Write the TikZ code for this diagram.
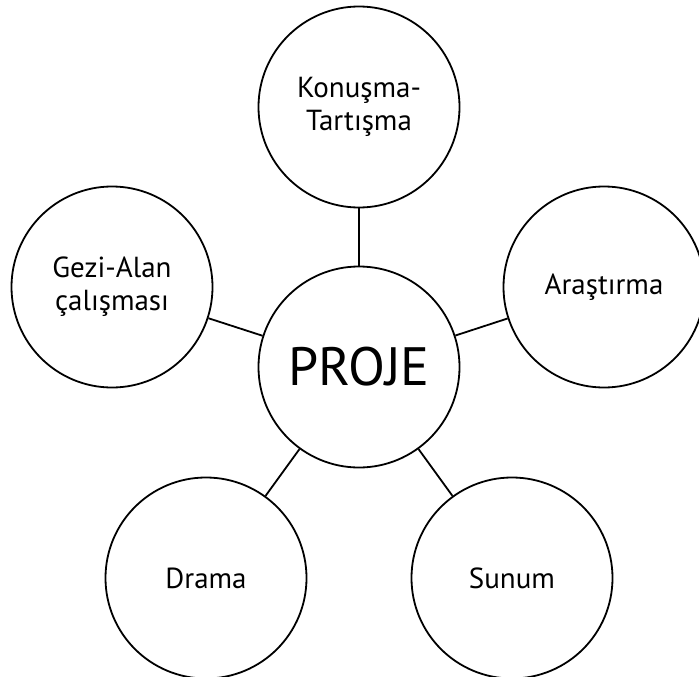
\documentclass[tikz,border=0pt]{standalone}
\usepackage{fontspec}
\setmainfont{PT Sans}
\begin{document}
\begin{tikzpicture}[x=1pt,y=-1pt,
  bub/.style={circle,draw,line width=1.8pt,minimum size=201pt,inner sep=0pt,align=center,font=\fontsize{29}{33}\selectfont},
  link/.style={line width=1.8pt}]
\useasboundingbox (0,0) rectangle (699,677);
\clip (0,0) rectangle (699,677);
\node[bub,font=\fontsize{54}{58}\selectfont] (c) at (359,367) {PROJE};
\node[bub] (t) at (359,107) {Konuşma-\\Tartışma};
\node[bub] (l) at (112,287) {Gezi-Alan\\çalışması};
\node[bub] (r) at (604,287) {Araştırma};
\node[bub] (bl) at (206,578) {Drama};
\node[bub] (br) at (512,578) {Sunum};
\draw[link] (c) -- (t);
\draw[link] (c) -- (l);
\draw[link] (c) -- (r);
\draw[link] (c) -- (bl);
\draw[link] (c) -- (br);
\end{tikzpicture}
\end{document}
